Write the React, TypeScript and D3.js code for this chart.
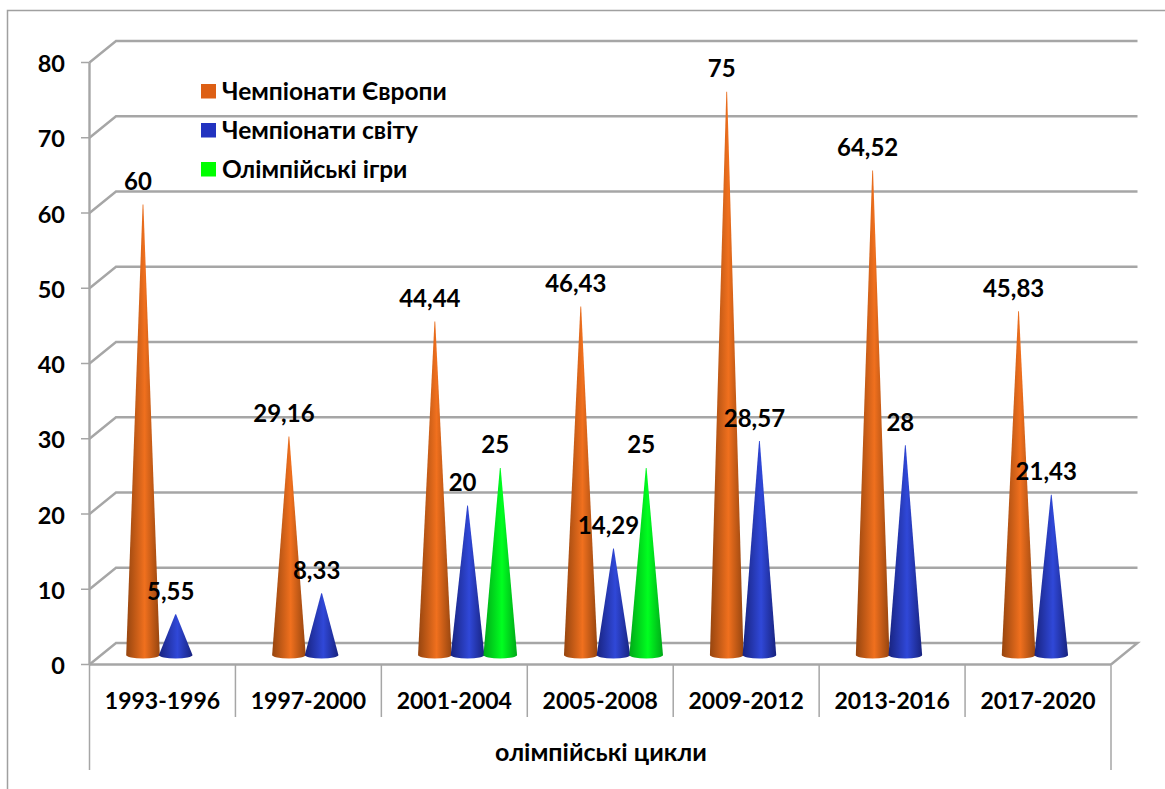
import React from "react";
import * as d3 from "d3";

const categories = ["1993-1996", "1997-2000", "2001-2004", "2005-2008", "2009-2012", "2013-2016", "2017-2020"];
const seriesNames = ["Чемпіонати Європи", "Чемпіонати світу", "Олімпійські ігри"];
const europe: (number | null)[] = [60, 29.16, 44.44, 46.43, 75, 64.52, 45.83];
const world: (number | null)[] = [5.55, 8.33, 20, 14.29, 28.57, 28, 21.43];
const olympics: (number | null)[] = [null, null, 25, 25, null, null, null];
const yTicks = [0, 10, 20, 30, 40, 50, 60, 70, 80];
const axisTitle = "олімпійські цикли";
const seriesColors = ["#dd5f14", "#2233c0", "#00ff00"];
const gradientStops = [
  ["#96450f", "#f0701e"],
  ["#18237f", "#3048d8"],
  ["#00a818", "#00ff20"],
];

const FONT = "Lato, 'Open Sans', sans-serif";
const GRID = "#a6a6a6";
const fmt = (v: number) => String(v).replace(".", ",");

export default function App() {
  const series = [europe, world, olympics];
  const x = d3.scaleBand<string>().domain(categories).range([89.5, 1111]);
  const y = d3.scaleLinear().domain([0, 80]).range([664.5, 62.5]);
  const yCone = d3.scaleLinear().domain([0, 80]).range([655, 53]);
  const depthX = 26.5;
  const depthY = 21.5;
  const coneStep = 32.7;
  const coneR = 16.8;
  const coneOffset = 53.5;

  const cone = (cx: number, v: number) => {
    const base = yCone(0);
    return `M${cx - coneR},${base} L${cx - 0.4},${yCone(v) + 1} L${cx + 0.4},${yCone(v) + 1} L${cx + coneR},${base} A${coneR},3.5 0 0 1 ${cx - coneR},${base} Z`;
  };

  return (
    <svg width={1165} height={789} style={{ position: "absolute", left: 0, top: 0, background: "#fff" }}>
      <defs>
        {gradientStops.map((s, i) => (
          <linearGradient key={i} id={`cone${i}`} x1="0" x2="1" y1="0" y2="0">
            <stop offset="0" stopColor={s[0]} />
            <stop offset="0.55" stopColor={s[1]} />
            <stop offset="1" stopColor={s[0]} />
          </linearGradient>
        ))}
      </defs>

      {/* outer frame */}
      <path d="M7.5,789 V10.5 H1165" fill="none" stroke="#a0a0a0" strokeWidth={1.5} />

      {/* walls */}
      {yTicks.map((t) => (
        <g key={t} fill="none" stroke={GRID}>
          <path
            d={t === 0
              ? `M${89.5},${y(t)} L${89.5 + depthX},${y(t) - depthY} H${1111 + depthX} L1111,${y(t)}`
              : `M${89.5},${y(t)} L${89.5 + depthX},${y(t) - depthY} H${1111 + depthX}`}
            strokeWidth={2.4}
          />
          <line x1={81} x2={89.5} y1={y(t)} y2={y(t)} strokeWidth={1.5} />
          <text
            x={65}
            y={y(t) + 0.5}
            textAnchor="end"
            dominantBaseline="central"
            fontFamily={FONT}
            fontWeight={700}
            fontSize={23.5}
            fill="#000"
            stroke="none"
          >
            {t}
          </text>
        </g>
      ))}

      {/* category axis */}
      <line x1={89.5} x2={1111} y1={y(0)} y2={y(0)} stroke={GRID} strokeWidth={2.4} />
      <line x1={89.5} x2={89.5} y1={y(80)} y2={y(0)} stroke={GRID} strokeWidth={2.4} />
      <line x1={89.5} x2={89.5} y1={y(0)} y2={770} stroke={GRID} strokeWidth={1.5} />
      <line x1={1111} x2={1111} y1={y(0)} y2={770} stroke={GRID} strokeWidth={1.5} />
      {categories.slice(1).map((c) => (
        <line key={c} x1={x(c)!} x2={x(c)!} y1={y(0)} y2={717} stroke={GRID} strokeWidth={1.5} />
      ))}
      {categories.map((c) => (
        <text
          key={c}
          x={x(c)! + x.bandwidth() / 2}
          y={700}
          textAnchor="middle"
          dominantBaseline="central"
          fontFamily={FONT}
          fontWeight={700}
          fontSize={23}
        >
          {c}
        </text>
      ))}
      <text x={601} y={751} textAnchor="middle" dominantBaseline="central" fontFamily={FONT} fontWeight={700} fontSize={25}>
        {axisTitle}
      </text>

      {/* cones */}
      {series.map((vals, si) =>
        vals.map((v, ci) =>
          v == null ? null : (
            <path
              key={`${si}-${ci}`}
              d={cone(x(categories[ci])! + coneOffset + si * coneStep, v)}
              fill={`url(#cone${si})`}
            />
          )
        )
      )}

      {/* value labels */}
      {series.map((vals, si) =>
        vals.map((v, ci) =>
          v == null ? null : (
            <text
              key={`${si}-${ci}`}
              x={x(categories[ci])! + coneOffset + si * coneStep - 5}
              y={yCone(v) - 23}
              textAnchor="middle"
              dominantBaseline="central"
              fontFamily={FONT}
              fontWeight={700}
              fontSize={24}
            >
              {fmt(v)}
            </text>
          )
        )
      )}

      {/* legend */}
      {seriesNames.map((n, i) => (
        <g key={n}>
          <rect x={201} y={84 + i * 39} width={15} height={14.5} fill={seriesColors[i]} />
          <text x={222} y={90 + i * 39} dominantBaseline="central" fontFamily={FONT} fontWeight={700} fontSize={24.5}>
            {n}
          </text>
        </g>
      ))}
    </svg>
  );
}
